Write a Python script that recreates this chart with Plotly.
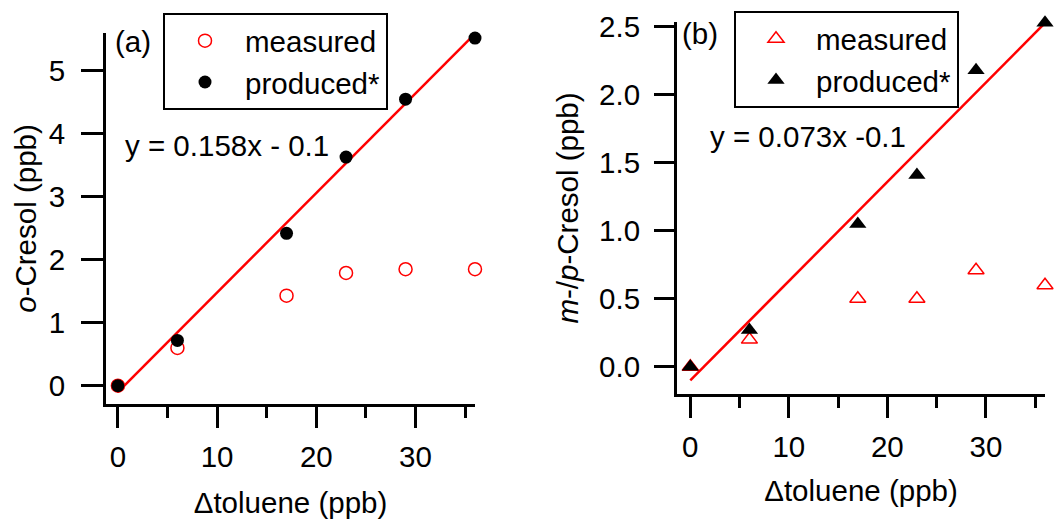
import plotly.graph_objects as go

# ---- data ----
toluene = [0, 6, 17, 23, 29, 36]
o_measured = [0.0, 0.6, 1.43, 1.79, 1.85, 1.85]
o_produced = [0.0, 0.72, 2.42, 3.63, 4.55, 5.52]
mp_measured = [0.0, 0.2, 0.5, 0.5, 0.71, 0.6]
mp_produced = [0.0, 0.27, 1.05, 1.41, 2.18, 2.53]
fit_x = [0, 36]
o_slope, o_int = 0.158, -0.1
mp_slope, mp_int = 0.073, -0.1
o_fit = [o_slope * x + o_int for x in fit_x]
mp_fit = [mp_slope * x + mp_int for x in fit_x]

FONT = "Arial, Liberation Sans, sans-serif"
FS = 29.5
RED = "#ff0000"

fig = go.Figure()

# panel (a)
fig.add_trace(go.Scatter(x=toluene, y=o_measured, mode="markers", name="measured",
                         marker=dict(symbol="circle-open", size=13, color=RED, line=dict(width=1.5, color=RED)),
                         xaxis="x", yaxis="y", legend="legend", cliponaxis=False))
fig.add_trace(go.Scatter(x=fit_x, y=o_fit, mode="lines", line=dict(color=RED, width=2.5),
                         showlegend=False, xaxis="x", yaxis="y", cliponaxis=False))
fig.add_trace(go.Scatter(x=toluene, y=o_produced, mode="markers", name="produced*",
                         marker=dict(symbol="circle", size=13, color="black"),
                         xaxis="x", yaxis="y", legend="legend", cliponaxis=False))

# panel (b)
fig.add_trace(go.Scatter(x=toluene, y=mp_measured, mode="markers", name="measured",
                         marker=dict(symbol="triangle-up-open", size=14, color=RED, line=dict(width=1.5, color=RED)),
                         xaxis="x2", yaxis="y2", legend="legend2", cliponaxis=False))
fig.add_trace(go.Scatter(x=fit_x, y=mp_fit, mode="lines", line=dict(color=RED, width=2.5),
                         showlegend=False, xaxis="x2", yaxis="y2", cliponaxis=False))
fig.add_trace(go.Scatter(x=toluene, y=mp_produced, mode="markers", name="produced*",
                         marker=dict(symbol="triangle-up", size=15, color="black"),
                         xaxis="x2", yaxis="y2", legend="legend2", cliponaxis=False))

W, H = 1057, 519
def px(x):
    return x / W
def py(y):
    return 1 - y / H

axis_common = dict(showline=True, linecolor="black", linewidth=3, ticks="outside",
                   tickwidth=3, tickcolor="black", showgrid=False, zeroline=False,
                   tickfont=dict(family=FONT, size=FS, color="black"),
                   title_font=dict(family=FONT, size=FS, color="black"), automargin=False)

xminor = dict(dtick=5, ticks="outside", ticklen=11, tickwidth=3, tickcolor="black", showgrid=False)

fig.update_layout(
    width=W, height=H, margin=dict(l=0, r=0, t=0, b=0),
    paper_bgcolor="white", plot_bgcolor="white",
    font=dict(family=FONT, size=FS, color="black"),
    xaxis=dict(axis_common, domain=[px(106), px(475)], range=[-1.2, 36], anchor="y",
               dtick=10, tick0=0, ticklen=21, minor=xminor, ticklabelstandoff=4,
               title=dict(text="Δtoluene (ppb)", standoff=20)),
    yaxis=dict(axis_common, domain=[py(404), py(33)], range=[-0.29, 5.6], anchor="x",
               dtick=1, tick0=0, ticklen=22, ticklabelstandoff=10,
               title=dict(text="<i>o</i>-Cresol (ppb)", standoff=4)),
    xaxis2=dict(axis_common, domain=[px(677), px(1045)], range=[-1.35, 36], anchor="y2",
                dtick=10, tick0=0, ticklen=21, minor=xminor, ticklabelstandoff=4,
                title=dict(text="Δtoluene (ppb)", standoff=18)),
    yaxis2=dict(axis_common, domain=[py(394), py(22)], range=[-0.2, 2.535], anchor="x2",
                dtick=0.5, tick0=0, ticklen=20, tickformat=".1f", ticklabelstandoff=8,
                title=dict(text="<i>m</i>-/<i>p</i>-Cresol (ppb)", standoff=12)),
    legend=dict(x=px(163), y=py(13), xanchor="left", yanchor="top", bgcolor="white",
                bordercolor="black", borderwidth=2, font=dict(family=FONT, size=FS),
                itemwidth=70, tracegroupgap=0),
    legend2=dict(x=px(734), y=py(11), xanchor="left", yanchor="top", bgcolor="white",
                 bordercolor="black", borderwidth=2, font=dict(family=FONT, size=FS),
                 itemwidth=70, tracegroupgap=0),
    annotations=[
        dict(text="(a)", x=px(113), y=py(42), xref="paper", yref="paper", xanchor="left",
             yanchor="middle", showarrow=False, font=dict(family=FONT, size=FS)),
        dict(text="(b)", x=px(680), y=py(33), xref="paper", yref="paper", xanchor="left",
             yanchor="middle", showarrow=False, font=dict(family=FONT, size=FS)),
        dict(text="y = 0.158x - 0.1", x=px(123), y=py(145), xref="paper", yref="paper",
             xanchor="left", yanchor="middle", showarrow=False, font=dict(family=FONT, size=FS)),
        dict(text="y = 0.073x -0.1", x=px(708), y=py(137), xref="paper", yref="paper",
             xanchor="left", yanchor="middle", showarrow=False, font=dict(family=FONT, size=FS)),
    ],
)

fig.write_html("out.html")
